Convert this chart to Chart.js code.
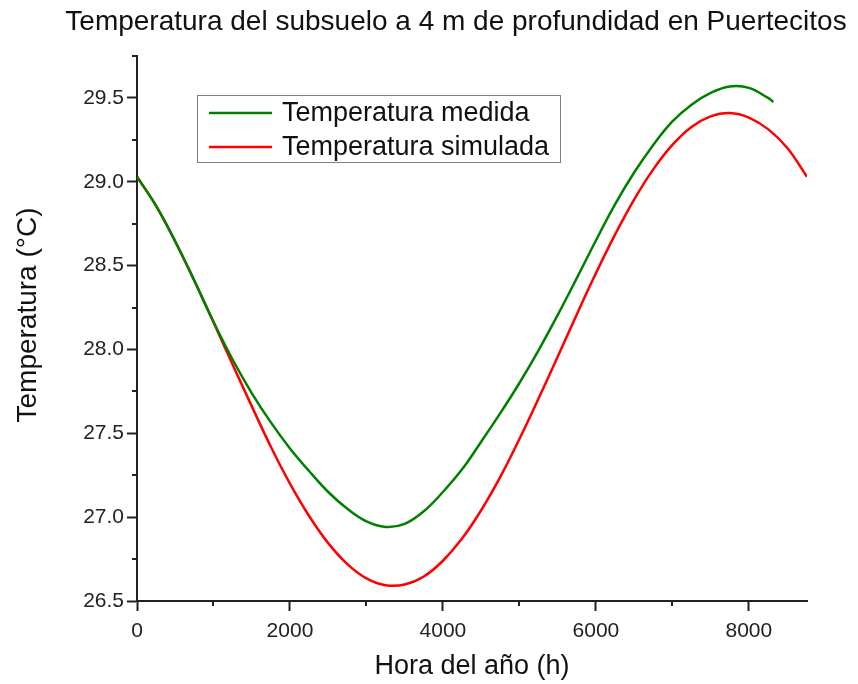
<!DOCTYPE html>
<html>
<head>
<meta charset="utf-8">
<script src="https://cdn.jsdelivr.net/npm/chart.js@4"></script>
<style>
  body { margin: 0; background: #fff; }
  #wrap { width: 858px; height: 684px; }
</style>
</head>
<body>
<div id="wrap"><canvas id="tempChart" width="858" height="684"></canvas></div>
<script>
// Datos (hora del año, °C)
const hoursMed = [0, 250, 500, 750, 1000, 1250, 1500, 1750, 2000, 2250, 2500, 2750, 3000, 3250, 3500, 3750, 4000, 4250, 4500, 4750,
                  5000, 5250, 5500, 5750, 6000, 6250, 6500, 6750, 7000, 7250, 7500, 7750, 8000, 8250, 8320];
const tempMed  = [29.03, 28.856, 28.644, 28.41, 28.165, 27.94, 27.74, 27.565, 27.41, 27.275, 27.15, 27.05, 26.975, 26.942, 26.96, 27.035, 27.15, 27.285, 27.45, 27.62,
                  27.80, 27.995, 28.205, 28.425, 28.65, 28.865, 29.055, 29.22, 29.36, 29.46, 29.53, 29.568, 29.56, 29.50, 29.476];

const hoursSim = [0, 250, 500, 750, 1000, 1250, 1500, 1750, 2000, 2250, 2500, 2750, 3000, 3250, 3500, 3750, 4000, 4250, 4500, 4750,
                  5000, 5250, 5500, 5750, 6000, 6250, 6500, 6750, 7000, 7250, 7500, 7750, 8000, 8250, 8500, 8760];
const tempSim  = [29.03, 28.856, 28.644, 28.41, 28.162, 27.91, 27.662, 27.42, 27.20, 27.007, 26.845, 26.72, 26.635, 26.594, 26.598, 26.646, 26.74, 26.872, 27.041, 27.24,
                  27.466, 27.707, 27.956, 28.209, 28.454, 28.685, 28.894, 29.074, 29.22, 29.327, 29.39, 29.41, 29.383, 29.314, 29.203, 29.03];

const xTicks = [0, 2000, 4000, 6000, 8000];
const yTicks = [26.5, 27.0, 27.5, 28.0, 28.5, 29.0, 29.5];

const labels = ["Temperatura medida", "Temperatura simulada"];
const colors = ["#008000", "#ff0000"];

const titleText = "Temperatura del subsuelo a 4 m de profundidad en Puertecitos";
const yTitleText = "Temperatura (°C)";

const FONT = "'Liberation Sans', Arial, sans-serif";
const INK = "#222";

Chart.defaults.font.family = FONT;
Chart.defaults.color = INK;

const toPoints = (xs, ys) => xs.map((x, i) => ({ x, y: ys[i] }));

// marcas menores a la mitad de cada paso
const xMinor = xTicks.map(v => v + 1000).filter(v => v <= 8760);
const yMinor = yTicks.map(v => v + 0.25).filter(v => v <= 29.75);

const minorTicks = {
    id: "minorTicks",
    afterDraw(chart) {
        const { ctx } = chart;
        const xs = chart.scales.x, ys = chart.scales.y;
        ctx.save();
        ctx.strokeStyle = INK;
        ctx.lineWidth = 2;
        ctx.beginPath();
        xMinor.forEach(v => {
            const px = Math.round(xs.getPixelForValue(v));
            ctx.moveTo(px, xs.top);
            ctx.lineTo(px, xs.top + 5);
        });
        yMinor.forEach(v => {
            const py = Math.round(ys.getPixelForValue(v));
            ctx.moveTo(ys.right - 5, py);
            ctx.lineTo(ys.right, py);
        });
        ctx.stroke();
        ctx.restore();
    }
};

// título general y título del eje Y (van algo descentrados en el original)
const freeTitles = {
    id: "freeTitles",
    afterDraw(chart) {
        const { ctx } = chart;
        ctx.save();
        ctx.fillStyle = "#111";
        ctx.textAlign = "center";
        ctx.textBaseline = "middle";
        ctx.font = "28px " + FONT;
        ctx.fillText(titleText, 456, 22);
        ctx.translate(28, 315);
        ctx.rotate(-Math.PI / 2);
        ctx.font = "28px " + FONT;
        ctx.fillText(yTitleText, 0, 0);
        ctx.restore();
    }
};

// leyenda con marco dentro del área
const boxLegend = {
    id: "boxLegend",
    afterDatasetsDraw(chart) {
        const { ctx } = chart;
        const x0 = 197.5, y0 = 95.5, w = 363, h = 67;
        ctx.save();
        ctx.fillStyle = "#fff";
        ctx.fillRect(x0, y0, w, h);
        ctx.strokeStyle = "#808080";
        ctx.lineWidth = 1;
        ctx.strokeRect(x0, y0, w, h);
        chart.data.datasets.forEach((ds, i) => {
            const yy = 113 + i * 34;
            ctx.strokeStyle = ds.borderColor;
            ctx.lineWidth = 2.5;
            ctx.beginPath();
            ctx.moveTo(209, yy);
            ctx.lineTo(272, yy);
            ctx.stroke();
            ctx.fillStyle = "#111";
            ctx.font = "27px " + FONT;
            ctx.textBaseline = "middle";
            ctx.fillText(ds.label, 282, yy + 1);
        });
        ctx.restore();
    }
};

const axisStyle = {
    grid: { display: true, drawOnChartArea: false, drawTicks: true, tickLength: 10, tickColor: INK, tickWidth: 2 },
    border: { display: true, color: INK, width: 2 }
};

new Chart(document.getElementById("tempChart"), {
    type: "line",
    data: {
        datasets: [
            { label: labels[0], data: toPoints(hoursMed, tempMed), borderColor: colors[0], backgroundColor: colors[0] },
            { label: labels[1], data: toPoints(hoursSim, tempSim), borderColor: colors[1], backgroundColor: colors[1] }
        ]
    },
    options: {
        responsive: false,
        animation: false,
        devicePixelRatio: 1,
        layout: { padding: { left: 0, right: 51, top: 56, bottom: 0 } },
        elements: {
            point: { radius: 0 },
            line: { borderWidth: 2.5, tension: 0.4, fill: false }
        },
        plugins: {
            legend: { display: false },
            tooltip: { enabled: false },
            title: { display: false }
        },
        scales: {
            x: {
                type: "linear",
                min: 0,
                max: 8760,
                ...axisStyle,
                afterBuildTicks: s => { s.ticks = xTicks.map(v => ({ value: v })); },
                afterFit: s => { s.height = 83; },
                ticks: { font: { size: 21 }, color: INK, padding: 8, maxRotation: 0, autoSkip: false, callback: v => String(v) },
                title: { display: true, text: "Hora del año (h)", font: { size: 27 }, color: "#111", padding: { top: 0, bottom: 1 } }
            },
            y: {
                min: 26.5,
                max: 29.75,
                ...axisStyle,
                afterBuildTicks: s => { s.ticks = yTicks.map(v => ({ value: v })); },
                afterFit: s => { s.width = 137; },
                ticks: { font: { size: 21 }, color: INK, padding: 3, callback: v => Number(v).toFixed(1) },
                title: { display: false }
            }
        }
    },
    plugins: [minorTicks, freeTitles, boxLegend]
});
</script>
</body>
</html>
